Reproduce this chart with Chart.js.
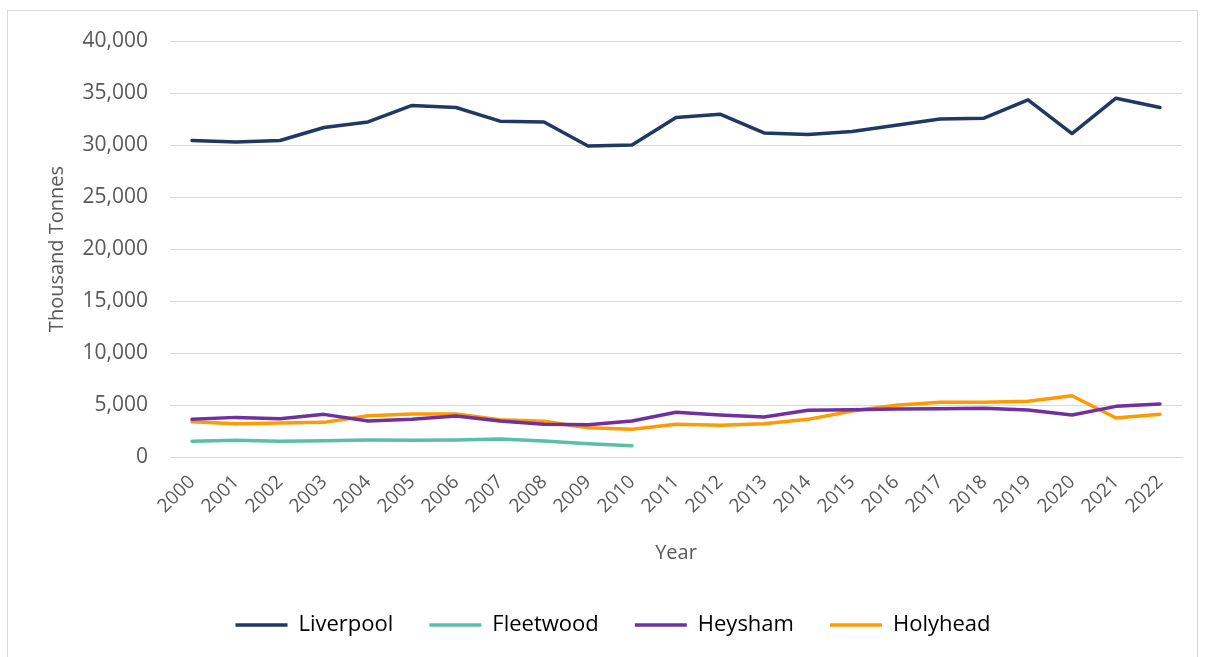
<!DOCTYPE html>
<html>
<head>
<meta charset="utf-8">
<script src="https://cdn.jsdelivr.net/npm/chart.js@4.4.1/dist/chart.umd.min.js"></script>
<style>
  html, body { margin: 0; padding: 0; background: #fff; }
  #wrap { position: relative; width: 1205px; height: 657px; }
</style>
</head>
<body>
<div id="wrap"><canvas id="chart" width="1205" height="657"></canvas></div>
<script>
// years along the x axis
const years = ["2000", "2001", "2002", "2003", "2004", "2005", "2006", "2007", "2008", "2009", "2010", "2011",
  "2012", "2013", "2014", "2015", "2016", "2017", "2018", "2019", "2020", "2021", "2022"];

// thousand tonnes
const liverpool = [30430, 30300, 30430, 31680, 32220, 33800, 33610, 32290, 32220, 29910, 30010, 32650,
  32960, 31160, 31000, 31290, 31900, 32510, 32580, 34340, 31100, 34500, 33610];
const fleetwood = [1510, 1600, 1510, 1570, 1630, 1600, 1630, 1730, 1540, 1280, 1090, null,
  null, null, null, null, null, null, null, null, null, null, null];
const heysham = [3620, 3810, 3680, 4100, 3460, 3620, 3940, 3460, 3140, 3110, 3460, 4300,
  4040, 3850, 4490, 4550, 4620, 4650, 4680, 4520, 4040, 4870, 5100];
const holyhead = [3390, 3200, 3270, 3330, 3970, 4130, 4130, 3590, 3430, 2820, 2660, 3140,
  3050, 3200, 3620, 4420, 4970, 5260, 5260, 5350, 5890, 3750, 4100];

const yTicks = [0, 5000, 10000, 15000, 20000, 25000, 30000, 35000, 40000];

const FONT = "'Open Sans', sans-serif";
const GREY = "#595959";

function line(label, data, color) {
  return {
    label: label,
    data: data,
    borderColor: color,
    backgroundColor: color,
    borderWidth: 3.5,
    borderCapStyle: "round",
    borderJoinStyle: "round",
    pointRadius: 0,
    tension: 0,
    spanGaps: false
  };
}

// light grey frame round the whole chart
const frame = {
  id: "frame",
  beforeDraw(chart) {
    const c = chart.ctx;
    c.save();
    c.strokeStyle = "#d9d9d9";
    c.lineWidth = 1;
    c.strokeRect(7.5, 10.5, 1190, 700);
    c.restore();
  }
};

new Chart(document.getElementById("chart"), {
  type: "line",
  data: {
    labels: years,
    datasets: [
      line("Liverpool", liverpool, "#203864"),
      line("Fleetwood", fleetwood, "#5BBFA3"),
      line("Heysham", heysham, "#7030A0"),
      line("Holyhead", holyhead, "#FF9A00")
    ]
  },
  options: {
    responsive: false,
    animation: false,
    layout: { padding: { top: 41, right: 23, left: 44, bottom: 11 } },
    plugins: {
      legend: {
        position: "bottom",
        labels: {
          usePointStyle: true,
          pointStyle: "line",
          pointStyleWidth: 52,
          color: "#000",
          font: { family: FONT, size: 22 },
          padding: 36
        }
      },
      tooltip: { enabled: false }
    },
    scales: {
      x: {
        offset: true,
        grid: { display: false, drawTicks: false },
        border: { display: true, color: "#d9d9d9", width: 1 },
        ticks: {
          color: GREY,
          font: { family: FONT, size: 19 },
          minRotation: 45,
          maxRotation: 45,
          autoSkip: false,
          padding: 14
        },
        title: {
          display: true,
          text: "Year",
          color: GREY,
          font: { family: FONT, size: 20 },
          padding: { top: 6, bottom: 13 }
        },
        afterFit(scale) { scale.height = 121; }
      },
      y: {
        min: 0,
        max: 40000,
        afterBuildTicks(scale) { scale.ticks = yTicks.map(v => ({ value: v })); },
        grid: { color: "#d9d9d9", lineWidth: 1, drawTicks: false },
        border: { display: false },
        ticks: {
          color: GREY,
          font: { family: FONT, size: 21 },
          padding: 22,
          callback: v => v.toLocaleString("en-GB")
        },
        title: {
          display: true,
          text: "Thousand Tonnes",
          color: GREY,
          font: { family: FONT, size: 20 },
          padding: { top: 1, bottom: 0 }
        },
        afterFit(scale) { scale.width = 126; }
      }
    }
  },
  plugins: [frame]
});
</script>
</body>
</html>
